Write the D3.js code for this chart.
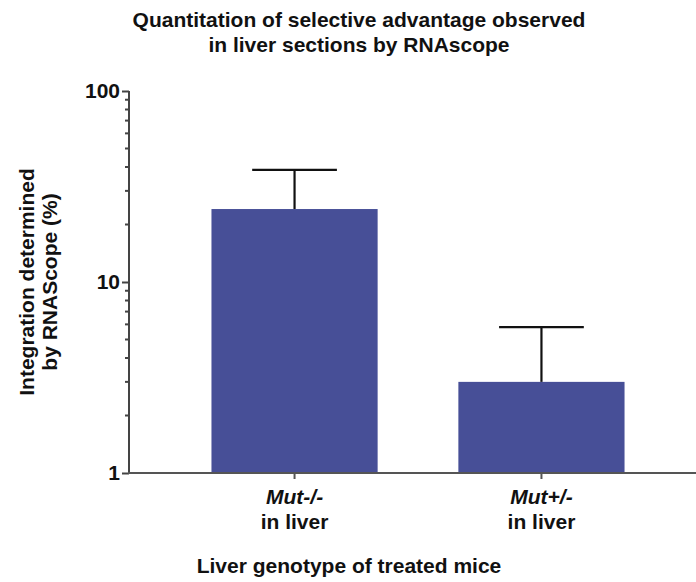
<!DOCTYPE html>
<html>
<head>
<meta charset="utf-8">
<script src="https://cdn.jsdelivr.net/npm/d3@7"></script>
<style>
  body { margin: 0; background: #fff; }
  text { font-family: "Liberation Sans", Arial, sans-serif; font-weight: bold; fill: #111; }
</style>
</head>
<body>
<svg id="chart" width="696" height="582"></svg>
<script>
// values
const genotypes = ["Mut-/-", "Mut+/-"];
const integration = [24.1, 3.0];
const errorUpper = [38.6, 5.8];
const yTicks = [1, 10, 100];
const titleLines = ["Quantitation of selective advantage observed", "in liver sections by RNAscope"];
const yTitleLines = ["Integration determined", "by RNAScope (%)"];

const svg = d3.select("#chart")
const barColor = "#474f97"
const fs = 21

const x = d3.scaleBand()
  .domain(genotypes)
  .range([129, 707])
  .paddingInner(0.327)
  .paddingOuter(0.334)

const y = d3.scaleLog()
  .domain([1, 100])
  .range([473, 91])

// minor ticks for the log axis
const minorTicks = []
for (let d = 1; d < 100; d *= 10) {
  for (let k = 2; k <= 9; k++) minorTicks.push(d * k)
}

// bars
svg.selectAll("rect.bar")
  .data(genotypes)
  .enter()
  .append("rect")
  .attr("class", "bar")
  .attr("x", d => x(d))
  .attr("width", x.bandwidth())
  .attr("y", (d, i) => y(integration[i]))
  .attr("height", (d, i) => y(1) - y(integration[i]))
  .attr("fill", barColor)

// error bars (upper only)
const capW = x.bandwidth() * 0.51
const err = svg.append("g").attr("stroke", "#111").attr("stroke-width", 2.2)
genotypes.forEach((g, i) => {
  const cx = x(g) + x.bandwidth() / 2
  err.append("line")
    .attr("x1", cx).attr("x2", cx)
    .attr("y1", y(integration[i])).attr("y2", y(errorUpper[i]))
  err.append("line")
    .attr("x1", cx - capW / 2).attr("x2", cx + capW / 2)
    .attr("y1", y(errorUpper[i])).attr("y2", y(errorUpper[i]))
})

// y axis
const yAxis = svg.append("g")
  .attr("transform", "translate(129,0)")
  .call(d3.axisLeft(y).tickValues(yTicks).tickFormat(d3.format("d")).tickSize(7).tickPadding(2))
yAxis.selectAll(".tick text").attr("font-size", fs).style("font-family", "'Liberation Sans', Arial, sans-serif")
yAxis.append("g")
  .selectAll("line")
  .data(minorTicks)
  .enter()
  .append("line")
  .attr("x1", -4).attr("x2", 0)
  .attr("y1", d => y(d)).attr("y2", d => y(d))
  .attr("stroke", "#444").attr("stroke-width", 2)
yAxis.select(".domain").remove()
yAxis.append("line")
  .attr("x1", 0).attr("x2", 0)
  .attr("y1", y(100)).attr("y2", y(1))
  .attr("stroke", "#444").attr("stroke-width", 2)
yAxis.selectAll(".tick line").attr("stroke", "#444").attr("stroke-width", 2)

// x axis
const xAxis = svg.append("g")
  .attr("transform", "translate(0,473)")
  .call(d3.axisBottom(x).tickSize(6).tickFormat(""))
xAxis.select(".domain").remove()
xAxis.append("line")
  .attr("x1", 128).attr("x2", 696)
  .attr("stroke", "#555").attr("stroke-width", 2.2)
xAxis.selectAll(".tick line").attr("stroke", "#555").attr("stroke-width", 2)
xAxis.selectAll(".tick text").remove()
xAxis.selectAll(".tick")
  .append("text")
  .attr("y", 31)
  .attr("text-anchor", "middle")
  .attr("font-size", fs)
  .style("font-style", "italic")
  .text(d => d)
xAxis.selectAll(".tick")
  .append("text")
  .attr("y", 56)
  .attr("text-anchor", "middle")
  .attr("font-size", fs)
  .text("in liver")

// titles
svg.append("g")
  .selectAll("text")
  .data(titleLines)
  .enter()
  .append("text")
  .attr("x", 359)
  .attr("y", (d, i) => 27 + i * 25)
  .attr("text-anchor", "middle")
  .attr("font-size", fs)
  .text(d => d)

svg.append("text")
  .attr("x", 349)
  .attr("y", 573)
  .attr("text-anchor", "middle")
  .attr("font-size", fs)
  .text("Liver genotype of treated mice")

svg.append("g")
  .selectAll("text")
  .data(yTitleLines)
  .enter()
  .append("text")
  .attr("transform", (d, i) => `translate(${34 + i * 23},282) rotate(-90)`)
  .attr("text-anchor", "middle")
  .attr("font-size", fs)
  .text(d => d)
</script>
</body>
</html>
